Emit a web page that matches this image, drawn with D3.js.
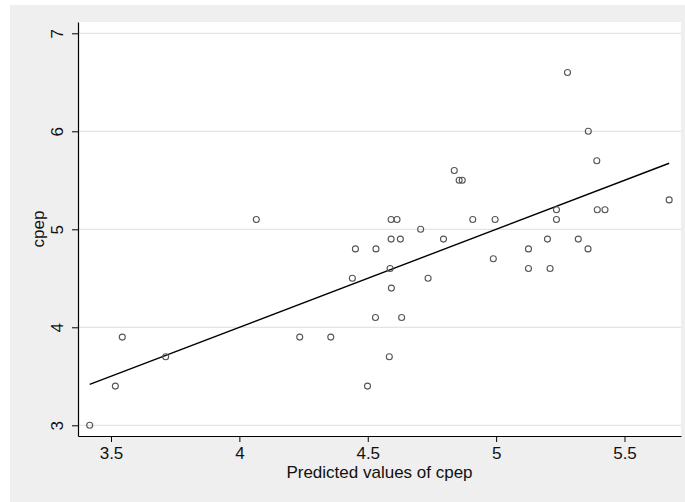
<!DOCTYPE html>
<html>
<head>
<meta charset="utf-8">
<script src="https://cdn.jsdelivr.net/npm/d3@7"></script>
<style>
  html, body { margin: 0; padding: 0; background: #fff; }
  text { font-family: "Liberation Sans", Arial, Helvetica, sans-serif; fill: #111; }
</style>
</head>
<body>
<div id="chart"></div>
<script>
// Predicted values of cpep (x) and observed cpep (y)
var pred = [3.417, 3.517, 3.544, 3.713, 4.066, 4.235, 4.356, 4.440, 4.452, 4.499,
            4.530, 4.532, 4.584, 4.587, 4.592, 4.591, 4.591, 4.614, 4.627, 4.632,
            4.706, 4.735, 4.795, 4.837, 4.856, 4.868, 4.909, 4.989, 4.996, 5.126,
            5.126, 5.200, 5.210, 5.235, 5.235, 5.278, 5.320, 5.358, 5.359, 5.392,
            5.394, 5.424, 5.674];
var cpep = [3.0, 3.4, 3.9, 3.7, 5.1, 3.9, 3.9, 4.5, 4.8, 3.4,
            4.1, 4.8, 3.7, 4.6, 4.4, 4.9, 5.1, 5.1, 4.9, 4.1,
            5.0, 4.5, 4.9, 5.6, 5.5, 5.5, 5.1, 4.7, 5.1, 4.8,
            4.6, 4.9, 4.6, 5.2, 5.1, 6.6, 4.9, 4.8, 6.0, 5.7,
            5.2, 5.2, 5.3];
var xTicks = [3.5, 4, 4.5, 5, 5.5];
var yTicks = [3, 4, 5, 6, 7];

var points = pred.map(function(p, i) { return {x: p, y: cpep[i]}; });

var W = 685, H = 502;
var plot = {left: 78, right: 681, top: 22, bottom: 436};

var svg = d3.select("#chart").append("svg")
    .attr("width", W)
    .attr("height", H);

// outer graph region
svg.append("rect")
    .attr("x", 10).attr("y", 5)
    .attr("width", W - 10).attr("height", H - 5)
    .attr("fill", "#efefef");

// plot region
svg.append("rect")
    .attr("x", plot.left).attr("y", plot.top)
    .attr("width", plot.right - plot.left)
    .attr("height", plot.bottom - plot.top)
    .attr("fill", "#fff");

// scales: place the ticks, then stretch to the plot edges
var x = d3.scaleLinear().domain([3.5, 5.5]).range([111, 624.5]);
x.domain([x.invert(plot.left), x.invert(plot.right)]).range([plot.left, plot.right]);
var y = d3.scaleLinear().domain([3, 7]).range([425.3, 33.3]);
y.domain([y.invert(plot.bottom), y.invert(plot.top)]).range([plot.bottom, plot.top]);

// horizontal grid lines
svg.append("g").selectAll("line")
  .data(yTicks)
  .enter().append("line")
    .attr("x1", plot.left).attr("x2", plot.right)
    .attr("y1", function(d) { return y(d); })
    .attr("y2", function(d) { return y(d); })
    .attr("stroke", "#e4e4e4")
    .attr("stroke-width", 1.3);

// fitted line: regressing cpep on its own predictions gives fitted = prediction
var ext = d3.extent(pred);
var fit = [{x: ext[0], y: ext[0]}, {x: ext[1], y: ext[1]}];
svg.append("path")
    .datum(fit)
    .attr("fill", "none")
    .attr("stroke", "#000")
    .attr("stroke-width", 1.4)
    .attr("d", d3.line()
      .x(function(d) { return x(d.x); })
      .y(function(d) { return y(d.y); }));

// scatter points
svg.append("g").selectAll("circle")
  .data(points)
  .enter().append("circle")
    .attr("cx", function(d) { return x(d.x); })
    .attr("cy", function(d) { return y(d.y); })
    .attr("r", 3)
    .attr("fill", "none")
    .attr("stroke", "#555")
    .attr("stroke-width", 1.1);

// X axis
var xAxis = svg.append("g")
    .attr("transform", "translate(0," + plot.bottom + ")")
    .call(d3.axisBottom(x).tickValues(xTicks).tickSize(6).tickPadding(5)
      .tickFormat(d3.format("")).tickSizeOuter(0));
xAxis.select(".domain").attr("stroke", "#000").attr("stroke-width", 1.2);
xAxis.selectAll(".tick line").attr("stroke", "#000").attr("stroke-width", 1);
xAxis.selectAll(".tick text").style("font-size", "17px")
    .style("font-family", "'Liberation Sans', Arial, sans-serif").attr("fill", "#111");

// Y axis
var yAxis = svg.append("g")
    .attr("transform", "translate(" + plot.left + ",0)")
    .call(d3.axisLeft(y).tickValues(yTicks).tickSize(6)
      .tickFormat(d3.format("")).tickSizeOuter(0));
yAxis.select(".domain").attr("stroke", "#000").attr("stroke-width", 1.2);
yAxis.selectAll(".tick line").attr("stroke", "#000").attr("stroke-width", 1);
yAxis.selectAll(".tick text")
    .attr("x", null).attr("dy", null)
    .attr("transform", "translate(-15,0) rotate(-90)")
    .attr("text-anchor", "middle")
    .style("font-size", "17px")
    .style("font-family", "'Liberation Sans', Arial, sans-serif").attr("fill", "#111");

// axis titles
svg.append("text")
    .attr("x", (plot.left + plot.right) / 2)
    .attr("y", 478)
    .attr("text-anchor", "middle")
    .style("font-size", "17px")
    .text("Predicted values of cpep");

svg.append("text")
    .attr("transform", "translate(44," + ((plot.top + plot.bottom) / 2) + ") rotate(-90)")
    .attr("text-anchor", "middle")
    .style("font-size", "17px")
    .text("cpep");
</script>
</body>
</html>
